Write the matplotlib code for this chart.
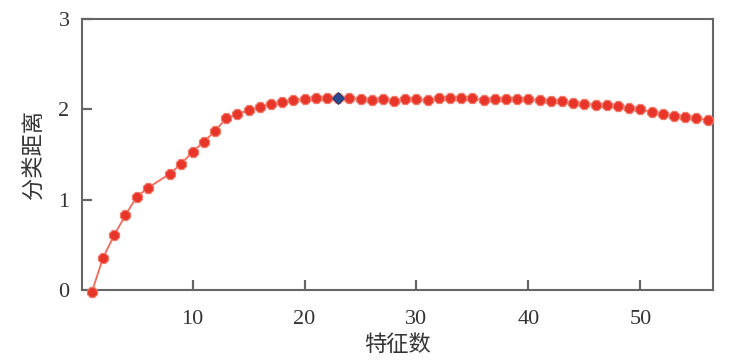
import matplotlib
matplotlib.use("Agg")
import matplotlib.pyplot as plt

feature_counts = [1, 2, 3, 4, 5, 6, 8, 9, 10, 11, 12, 13, 14, 15, 16, 17, 18, 19, 20,
                  21, 22, 23, 24, 25, 26, 27, 28, 29, 30, 31, 32, 33, 34, 35, 36, 37,
                  38, 39, 40, 41, 42, 43, 44, 45, 46, 47, 48, 49, 50, 51, 52, 53, 54,
                  55, 56]
distances = [-0.02, 0.36, 0.61, 0.83, 1.03, 1.13, 1.29, 1.40, 1.53, 1.64, 1.76, 1.90,
             1.95, 1.99, 2.03, 2.06, 2.08, 2.10, 2.11, 2.12, 2.125, 2.13, 2.12, 2.115,
             2.10, 2.11, 2.09, 2.11, 2.11, 2.10, 2.12, 2.12, 2.12, 2.12, 2.10, 2.11,
             2.11, 2.11, 2.11, 2.10, 2.09, 2.09, 2.07, 2.06, 2.05, 2.05, 2.04, 2.01,
             2.00, 1.97, 1.95, 1.93, 1.92, 1.90, 1.885]
best_x = 23
best_y = 2.13
x_ticks = [10, 20, 30, 40, 50]
y_ticks = [0, 1, 2, 3]
x_label = "特征数"
y_label = "分类距离"

fig = plt.figure(figsize=(7.39, 3.64), dpi=100)
ax = fig.add_axes([0.111, 0.203, 0.854, 0.745])

ax.plot(feature_counts, distances, color="#f26a58", lw=1.3, zorder=2, clip_on=False)
ax.plot(feature_counts, distances, linestyle="none", marker="8", markersize=7.5,
        color="#e8352a", markeredgecolor="#f07a6a", markeredgewidth=0.9,
        zorder=3, clip_on=False)
ax.plot([best_x], [best_y], linestyle="none", marker="D", markersize=6.5,
        color="#2a4a90", markeredgecolor="#1f3a78", markeredgewidth=0.6, zorder=4)

ax.set_xlim(0.12, 56.5)
ax.set_ylim(0, 3)
ax.set_xticks(x_ticks)
ax.set_yticks(y_ticks)

serif = ["Liberation Serif", "DejaVu Serif"]
for lab in ax.get_xticklabels() + ax.get_yticklabels():
    lab.set_family(serif)
    lab.set_fontsize(16)
    lab.set_color("#333333")

ax.tick_params(axis="both", direction="in", length=7, width=1.6, color="#666666",
               top=False, right=False)
ax.tick_params(axis="x", pad=14)
ax.tick_params(axis="y", pad=9)

for sp in ax.spines.values():
    sp.set_color("#666666")
    sp.set_linewidth(1.5)

cjk = ["Noto Sans CJK SC", "DejaVu Sans"]
ax.set_xlabel(x_label, family=cjk, fontsize=16, color="#333333", labelpad=3)
ax.set_ylabel(y_label, family=cjk, fontsize=16, color="#333333", labelpad=10)

fig.savefig("out.png", dpi=100, facecolor="white")
